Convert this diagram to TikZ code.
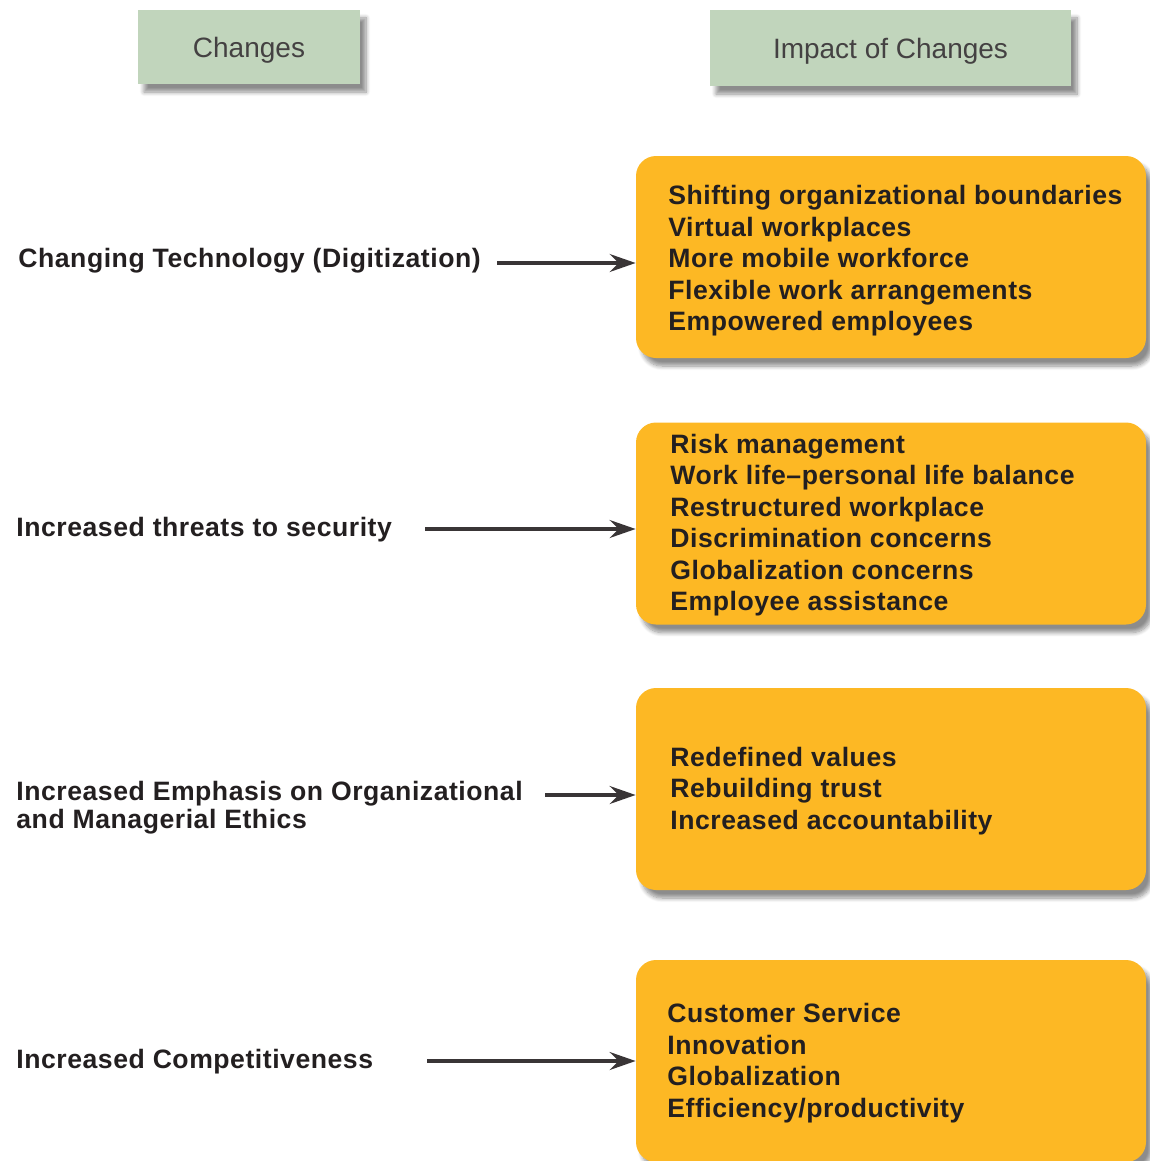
\documentclass[tikz,border=0pt]{standalone}
\usepackage{fontspec}
\setmainfont{Liberation Sans}
\newfontfamily\widesans[LetterSpace=2]{Liberation Sans}
\usepackage{tikz}
\usetikzlibrary{positioning,arrows.meta,shadows.blur}
\definecolor{headgreen}{HTML}{C1D5BC}
\definecolor{impactorange}{HTML}{FDB824}
\definecolor{inkdark}{HTML}{231F20}

\begin{document}
\begin{tikzpicture}[x=0.5pt,y=-0.5pt,
  >={Stealth[length=13pt,width=9pt,inset=4.5pt]},
  hbox/.style={rectangle,fill=headgreen,text=inkdark!85,inner sep=0pt,
    font=\fontsize{14}{16}\selectfont,
    blur shadow={shadow xshift=3pt,shadow yshift=-4pt,shadow blur steps=8,shadow opacity=45}},
  ibox/.style={rectangle,rounded corners=10pt,fill=impactorange,inner sep=0pt,
    minimum width=255pt,minimum height=101pt,
    blur shadow={shadow xshift=3pt,shadow yshift=-4pt,shadow blur steps=8,shadow opacity=45}},
  itxt/.style={anchor=west,align=left,inner sep=0pt,text=inkdark,
    font=\widesans\bfseries\fontsize{13.3}{15.75}\selectfont},
  ltxt/.style={anchor=west,align=left,inner sep=0pt,text=inkdark,
    font=\widesans\bfseries\fontsize{13.3}{14}\selectfont},
  arr/.style={->,line width=1.6pt,draw=inkdark!90}]

  \useasboundingbox (0,0) rectangle (1150,1161);

  % column headers
  \node[hbox,minimum width=111pt,minimum height=37pt] (head1) at (249,47) {\raisebox{-5.2pt}[0pt][0pt]{Changes}};
  \node[hbox,minimum width=180.5pt,minimum height=38pt] (head2) at (890.5,48) {\raisebox{-5.2pt}[0pt][0pt]{Impact of Changes}};

  % impact boxes
  \node[ibox] (box1) at (891,257)    {};
  \node[ibox] (box2) at (891,523.5)  {};
  \node[ibox] (box3) at (891,789)    {};
  \node[ibox] (box4) at (891,1061)   {};

  \node[itxt] (txt1) at (668,261) {Shifting organizational boundaries\\Virtual workplaces\\More mobile workforce\\Flexible work arrangements\\Empowered employees};
  \node[itxt] (txt2) at (670,525) {Risk management\\Work life–personal life balance\\Restructured workplace\\Discrimination concerns\\Globalization concerns\\Employee assistance};
  \node[itxt] (txt3) at (670,791) {Redefined values\\Rebuilding trust\\Increased accountability};
  \node[itxt] (txt4) at (667,1063) {Customer Service\\Innovation\\Globalization\\Efficiency/productivity};

  % changes
  \node[ltxt] (lab1) at (18,261)  {Changing Technology (Digitization)};
  \node[ltxt] (lab2) at (16,530)  {Increased threats to security};
  \node[ltxt] (lab3) at (16,808)  {Increased Emphasis on Organizational\\and Managerial Ethics};
  \node[ltxt] (lab4) at (16,1062) {Increased Competitiveness};

  \coordinate (tail1) at (497,263);
  \coordinate (tail2) at (425,529);
  \coordinate (tail3) at (545,795);
  \coordinate (tail4) at (427,1061);
  \draw[arr] (tail1) -- (tail1 -| box1.west);
  \draw[arr] (tail2) -- (tail2 -| box2.west);
  \draw[arr] (tail3) -- (tail3 -| box3.west);
  \draw[arr] (tail4) -- (tail4 -| box4.west);
\end{tikzpicture}
\end{document}
